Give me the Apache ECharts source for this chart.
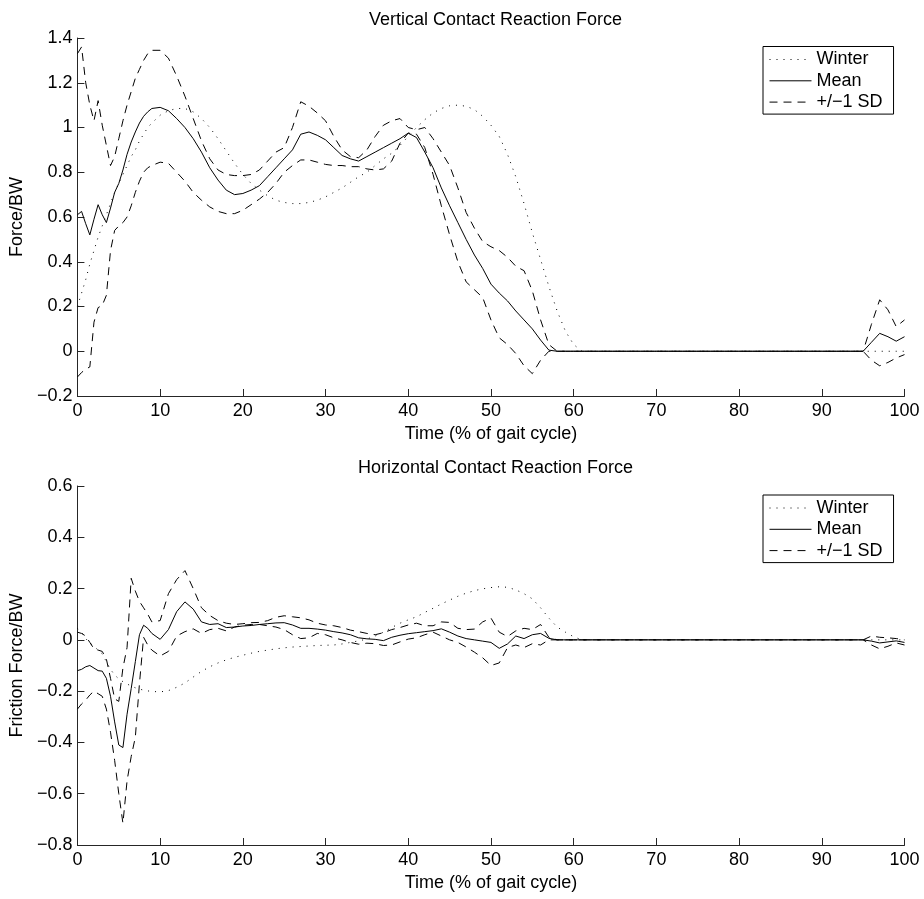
<!DOCTYPE html>
<html>
<head>
<meta charset="utf-8">
<script src="https://cdn.jsdelivr.net/npm/echarts@6/dist/echarts.min.js"></script>
<style>html,body{margin:0;padding:0;background:#fff}#c{width:924px;height:899px}</style>
</head>
<body>
<div id="c"></div>
<script>
// time points (% of gait cycle)
var TIME = [0,0.5,1,1.5,2,2.5,3,3.5,4,4.5,5,5.5,6,6.5,7,7.5,8,8.5,9,
  10,11,12,13,14,15,16,17,18,19,20,21,22,23,24,25,26,27,28,29,30,31,32,33,34,35,36,37,38,39,40,
  41,42,43,44,45,46,47,48,49,50,51,52,53,54,55,56,57,58,59,60,61,
  62,70,80,90,95,96,97,98,99,100];

// Vertical contact reaction force (Force/BW)
var V_WINTER = [0.2,0.26,0.32,0.39,0.45,0.51,0.56,0.61,0.66,0.71,0.75,0.79,0.83,0.87,0.9,0.94,0.97,1.0,1.02,
  1.055,1.075,1.085,1.085,1.07,1.04,1.0,0.95,0.895,0.84,0.79,0.75,0.72,0.695,0.675,0.665,0.66,0.66,0.665,0.675,0.69,0.71,0.73,0.755,0.78,0.8,0.83,0.86,0.885,0.92,0.96,
  1.0,1.035,1.065,1.085,1.097,1.1,1.095,1.08,1.05,1.01,0.96,0.88,0.78,0.66,0.53,0.41,0.29,0.18,0.09,0.03,0,
  0,0,0,0,0,0,0,0,0,0];
var V_MEAN = [0.61,0.625,0.57,0.52,0.59,0.655,0.61,0.575,0.64,0.71,0.75,0.81,0.88,0.935,0.98,1.02,1.05,1.07,1.085,
  1.09,1.075,1.04,1.0,0.95,0.89,0.82,0.765,0.72,0.7,0.705,0.72,0.74,0.78,0.82,0.86,0.9,0.97,0.98,0.965,0.945,0.91,0.875,0.86,0.85,0.87,0.89,0.91,0.93,0.95,0.975,
  0.955,0.89,0.82,0.73,0.65,0.575,0.5,0.43,0.37,0.3,0.26,0.225,0.18,0.14,0.1,0.05,0.005,0,0,0,0,
  0,0,0,0,0,0.04,0.08,0.065,0.045,0.065];
var V_SD_UP = [1.33,1.36,1.2,1.1,1.03,1.12,1.01,0.92,0.83,0.87,0.95,1.03,1.1,1.16,1.22,1.26,1.3,1.33,1.345,
  1.345,1.31,1.23,1.14,1.04,0.94,0.86,0.81,0.79,0.785,0.785,0.79,0.81,0.85,0.89,0.91,1.0,1.115,1.095,1.065,1.03,0.96,0.9,0.87,0.865,0.9,0.96,1.01,1.03,1.04,1.0,
  0.99,1.0,0.95,0.89,0.83,0.73,0.62,0.55,0.49,0.467,0.45,0.42,0.38,0.36,0.27,0.14,0.03,0,0,0,0,
  0,0,0,0,0,0.12,0.23,0.185,0.11,0.14];
var V_SD_LO = [-0.115,-0.095,-0.08,-0.07,0.13,0.195,0.205,0.25,0.45,0.54,0.56,0.575,0.6,0.65,0.71,0.76,0.8,0.82,0.83,
  0.845,0.84,0.8,0.76,0.71,0.675,0.645,0.625,0.615,0.615,0.63,0.655,0.68,0.71,0.75,0.8,0.83,0.855,0.855,0.845,0.835,0.83,0.83,0.825,0.825,0.815,0.81,0.815,0.85,0.93,0.975,
  0.97,0.91,0.79,0.65,0.52,0.4,0.31,0.275,0.24,0.14,0.06,0.03,-0.01,-0.065,-0.1,-0.04,0,0,0,0,0,
  0,0,0,0,0,-0.04,-0.065,-0.05,-0.03,-0.015];

// Horizontal contact reaction force (Friction Force/BW)
var H_WINTER = [0.045,0.03,0.005,-0.012,-0.025,-0.04,-0.055,-0.085,-0.115,-0.137,-0.152,-0.163,-0.172,-0.18,-0.187,-0.192,-0.196,-0.199,-0.201,
  -0.203,-0.198,-0.185,-0.168,-0.145,-0.123,-0.105,-0.09,-0.078,-0.068,-0.06,-0.052,-0.045,-0.04,-0.035,-0.031,-0.028,-0.026,-0.024,-0.022,-0.021,-0.02,-0.016,-0.01,-0.004,0.003,0.015,0.03,0.048,0.065,0.078,
  0.09,0.107,0.123,0.14,0.155,0.17,0.182,0.192,0.199,0.204,0.207,0.205,0.195,0.18,0.16,0.125,0.085,0.05,0.03,0.012,0,
  0,0,0,0,0,0,0,0,0,0];
var H_MEAN = [-0.12,-0.115,-0.105,-0.1,-0.11,-0.12,-0.122,-0.15,-0.22,-0.32,-0.41,-0.42,-0.29,-0.19,-0.085,0.02,0.057,0.045,0.025,
  0.002,0.04,0.11,0.148,0.12,0.07,0.06,0.063,0.048,0.05,0.054,0.056,0.06,0.063,0.066,0.067,0.058,0.045,0.045,0.042,0.038,0.032,0.027,0.02,0.008,0.004,0.002,-0.003,0.01,0.018,0.024,
  0.028,0.032,0.036,0.043,0.03,0.015,0.005,0,-0.005,-0.01,-0.033,-0.016,0.015,0.005,0.02,0.025,0.006,0,0,0,0,
  0,0,0,0,0,-0.005,-0.012,-0.008,-0.004,-0.01];
var H_SD_UP = [0.03,0.025,0.015,-0.01,-0.035,-0.04,-0.045,-0.075,-0.15,-0.23,-0.24,-0.11,-0.03,0.24,0.19,0.15,0.125,0.1,0.07,
  0.075,0.18,0.235,0.27,0.2,0.125,0.095,0.075,0.065,0.06,0.063,0.067,0.068,0.075,0.088,0.094,0.09,0.086,0.078,0.065,0.058,0.055,0.048,0.038,0.032,0.025,0.02,0.028,0.04,0.048,0.058,
  0.065,0.055,0.055,0.07,0.068,0.045,0.04,0.042,0.07,0.085,0.03,0.013,0.035,0.045,0.04,0.06,0.01,0,0,0,0,
  0,0,0,0,0,0.015,0.01,0.008,0.005,0];
var H_SD_LO = [-0.27,-0.25,-0.235,-0.215,-0.2,-0.21,-0.22,-0.27,-0.36,-0.47,-0.6,-0.715,-0.55,-0.455,-0.38,-0.17,0.01,-0.02,-0.04,
  -0.063,-0.045,0.015,0.032,0.043,0.025,0.04,0.045,0.035,0.05,0.057,0.06,0.06,0.055,0.05,0.04,0.02,0.005,0.008,0.025,0.02,0.008,0,-0.01,-0.017,-0.013,-0.015,-0.022,-0.02,-0.008,0.003,
  0.008,0.02,0.03,0.015,0,-0.01,-0.028,-0.048,-0.07,-0.1,-0.09,-0.03,-0.02,-0.03,-0.015,-0.02,0,0,0,0,0,
  0,0,0,0,0,-0.02,-0.035,-0.025,-0.012,-0.02];

var X_TICKS = {min: 0, max: 100, interval: 10};
var Y_TOP = {min: -0.2, max: 1.4, interval: 0.2};
var Y_BOT = {min: -0.8, max: 0.6, interval: 0.2};
var TITLES = ['Vertical Contact Reaction Force', 'Horizontal Contact Reaction Force'];
var X_NAME = 'Time (% of gait cycle)';
var Y_NAMES = ['Force/BW', 'Friction Force/BW'];
var LEGEND = ['Winter', 'Mean', '+/\u22121 SD'];

var FONT = "'Liberation Sans', Arial, Helvetica, sans-serif";
var AX = '#262626';

function pairs(arr) { return TIME.map(function (t, i) { return [t, arr[i]]; }); }
function fmtY(v) { var s = String(Math.round(v * 10) / 10); return s.replace('-', '\u2212'); }

function xAxis(gi) {
  return {
    type: 'value', gridIndex: gi, min: X_TICKS.min, max: X_TICKS.max, interval: X_TICKS.interval,
    name: X_NAME, nameLocation: 'middle', nameGap: 29,
    nameTextStyle: {fontFamily: FONT, fontSize: 18, color: '#000'},
    axisLine: {show: true, onZero: false, lineStyle: {color: AX, width: 1}},
    axisTick: {show: true, inside: true, length: 7, lineStyle: {color: AX}},
    axisLabel: {fontFamily: FONT, fontSize: 18, color: '#000', margin: 6},
    splitLine: {show: false}
  };
}
function yAxis(gi, r, name) {
  return {
    type: 'value', gridIndex: gi, min: r.min, max: r.max, interval: r.interval,
    name: name, nameLocation: 'middle', nameGap: 47, nameRotate: 90,
    nameTextStyle: {fontFamily: FONT, fontSize: 18, color: '#000'},
    axisLine: {show: true, onZero: false, lineStyle: {color: AX, width: 1}},
    axisTick: {show: true, inside: true, length: 7, lineStyle: {color: AX}},
    axisLabel: {fontFamily: FONT, fontSize: 18, color: '#000', margin: 5, formatter: fmtY},
    splitLine: {show: false}
  };
}
function line(name, gi, arr, type) {
  return {
    type: 'line', name: name, xAxisIndex: gi, yAxisIndex: gi, data: pairs(arr),
    symbol: 'none', showSymbol: false, smooth: false, z: 2,
    lineStyle: {color: '#000', width: 1, type: type},
    itemStyle: {color: '#000'},
    emphasis: {disabled: true}
  };
}
function legend(top) {
  return {
    data: LEGEND, orient: 'vertical', left: 763, top: top,
    itemWidth: 42, itemHeight: 14, itemGap: 3.3, padding: [4, 11, 3, 6],
    borderColor: '#000', borderWidth: 1, backgroundColor: '#fff',
    selectedMode: false,
    itemStyle: {opacity: 0, borderWidth: 0},
    lineStyle: {width: 1, color: '#000'},
    textStyle: {fontFamily: FONT, fontSize: 18, color: '#000', lineHeight: 18}
  };
}

var DOT = [1, 6], DASH = [8, 6];
var chart = echarts.init(document.getElementById('c'), null, {renderer: 'canvas'});
chart.setOption({
  animation: false,
  backgroundColor: '#fff',
  title: [
    {text: TITLES[0], left: 490.5, top: 6, textAlign: 'center', textStyle: {fontFamily: FONT, fontSize: 18, fontWeight: 'normal', color: '#000'}},
    {text: TITLES[1], left: 490.5, top: 454, textAlign: 'center', textStyle: {fontFamily: FONT, fontSize: 18, fontWeight: 'normal', color: '#000'}}
  ],
  grid: [
    {left: 76.5, top: 38, width: 828, height: 358},
    {left: 76.5, top: 486, width: 828, height: 359}
  ],
  xAxis: [xAxis(0), xAxis(1)],
  yAxis: [yAxis(0, Y_TOP, Y_NAMES[0]), yAxis(1, Y_BOT, Y_NAMES[1])],
  legend: [legend(46.5), legend(495)],
  series: [
    line(LEGEND[0], 0, V_WINTER, DOT),
    line(LEGEND[1], 0, V_MEAN, 'solid'),
    line(LEGEND[2], 0, V_SD_UP, DASH),
    line(LEGEND[2], 0, V_SD_LO, DASH),
    line(LEGEND[0], 1, H_WINTER, DOT),
    line(LEGEND[1], 1, H_MEAN, 'solid'),
    line(LEGEND[2], 1, H_SD_UP, DASH),
    line(LEGEND[2], 1, H_SD_LO, DASH)
  ]
});
</script>
</body>
</html>
